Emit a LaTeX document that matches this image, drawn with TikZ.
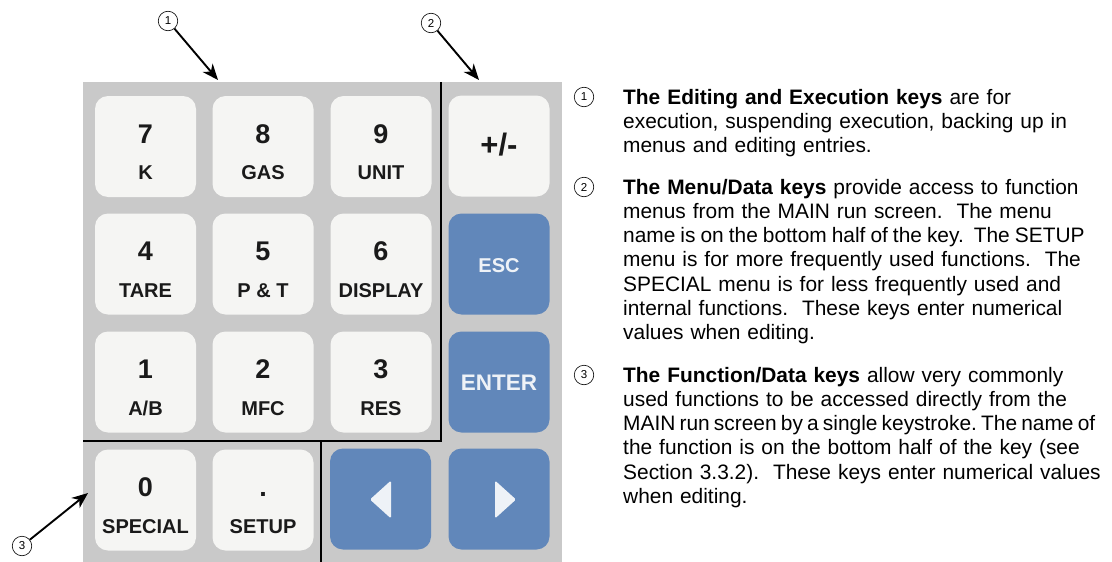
\documentclass[tikz,border=0pt]{standalone}
\usepackage{fontspec}
\setmainfont{Liberation Sans}
\usepackage{xcolor}
\usepackage{tikz}
\usetikzlibrary{arrows.meta}

\definecolor{panelgray}{RGB}{201,201,201}
\definecolor{keywhite}{RGB}{245,245,243}
\definecolor{keyblue}{RGB}{97,135,186}
\definecolor{keytext}{RGB}{26,26,26}
\definecolor{bluetext}{RGB}{238,242,247}

\begin{document}
\begin{tikzpicture}[x=1pt, y=-1pt,
	key/.style={shape=rectangle, rounded corners=13pt, inner sep=0, minimum width=101pt, minimum height=101pt, fill=keywhite},
	bluekey/.style={key, fill=keyblue},
	digit/.style={anchor=base, inner sep=0, text=keytext, font=\fontsize{27}{27}\selectfont\bfseries},
	keyname/.style={anchor=base, inner sep=0, text=keytext, font=\fontsize{20}{20}\selectfont\bfseries},
	bluename/.style={keyname, text=bluetext},
	callout/.style={shape=circle, draw, line width=0.6pt, inner sep=0, minimum size=19.5pt, font=\fontsize{11.5}{11.5}\selectfont},
	pointer/.style={line width=1.9pt, -{Stealth[length=16pt, width=13pt, inset=5pt]}},
	divider/.style={line width=2.4pt},
	para/.style={anchor=base west, inner sep=0, text width=520pt, align=left, font=\fontsize{20.9}{24.3}\selectfont}]
	\useasboundingbox (0, 0) rectangle (1112, 562);
	% Keypad panel and dividers:
	\node[shape=rectangle, fill=panelgray, inner sep=0, minimum width=479pt, minimum height=480pt] (Panel) at (322.5, 322) {};
	\draw[divider] (441, 82) -- (441, 441) -- (83, 441);
	\draw[divider] (321, 441) -- (321, 562);
	% Number keys:
	\node[key] (K7) at (145.5, 146.5) {};
	\node[key] (K8) at (263, 146.5) {};
	\node[key] (K9) at (381, 146.5) {};
	\node[key] (K4) at (145.5, 264) {};
	\node[key] (K5) at (263, 264) {};
	\node[key] (K6) at (381, 264) {};
	\node[key] (K1) at (145.5, 382) {};
	\node[key] (K2) at (263, 382) {};
	\node[key] (K3) at (381, 382) {};
	\node[key] (K0) at (145.5, 500) {};
	\node[key] (KDot) at (263, 500) {};
	\node[digit] (D7) at ([yshift=3.5pt]K7.center) {7} node[keyname] (L7) at ([yshift=-33pt]K7.center) {K};
	\node[digit] (D8) at ([yshift=3.5pt]K8.center) {8} node[keyname] (L8) at ([yshift=-33pt]K8.center) {GAS};
	\node[digit] (D9) at ([yshift=3.5pt]K9.center) {9} node[keyname] (L9) at ([yshift=-33pt]K9.center) {UNIT};
	\node[digit] (D4) at ([yshift=3.5pt]K4.center) {4} node[keyname] (L4) at ([yshift=-33pt]K4.center) {TARE};
	\node[digit] (D5) at ([yshift=3.5pt]K5.center) {5} node[keyname] (L5) at ([yshift=-33pt]K5.center) {P \& T};
	\node[digit] (D6) at ([yshift=3.5pt]K6.center) {6} node[keyname] (L6) at ([yshift=-33pt]K6.center) {DISPLAY};
	\node[digit] (D1) at ([yshift=3.5pt]K1.center) {1} node[keyname] (L1) at ([yshift=-33pt]K1.center) {A/B};
	\node[digit] (D2) at ([yshift=3.5pt]K2.center) {2} node[keyname] (L2) at ([yshift=-33pt]K2.center) {MFC};
	\node[digit] (D3) at ([yshift=3.5pt]K3.center) {3} node[keyname] (L3) at ([yshift=-33pt]K3.center) {RES};
	\node[digit] (D0) at ([yshift=3.5pt]K0.center) {0} node[keyname] (L0) at ([yshift=-33pt]K0.center) {SPECIAL};
	\node[digit] (DDot) at ([yshift=3.5pt]KDot.center) {.} node[keyname] (LDot) at ([yshift=-33pt]KDot.center) {SETUP};
	% Editing and execution keys:
	\node[key] (KSign) at (499, 146) {};
	\node[bluekey] (KEsc) at (499, 264) {};
	\node[bluekey] (KEnter) at (499, 382) {};
	\node[bluekey] (KLeft) at (380.5, 499) {};
	\node[bluekey] (KRight) at (499, 499) {};
	\node[digit, font=\fontsize{31}{31}\selectfont\bfseries] (DSign) at ([yshift=-9pt]KSign.center) {+/-};
	\node[bluename] (LEsc) at ([yshift=-8pt]KEsc.center) {ESC};
	\node[bluename, font=\fontsize{22.5}{22.5}\selectfont\bfseries] (LEnter) at ([yshift=-8pt]KEnter.center) {ENTER};
	\fill[bluetext, rounded corners=1.5pt] ([xshift=-10.5pt, yshift=-0.5pt]KLeft.center) -- ([xshift=10.5pt, yshift=18.5pt]KLeft.center) -- ([xshift=10.5pt, yshift=-19.5pt]KLeft.center) -- cycle;
	\fill[bluetext, rounded corners=1.5pt] ([xshift=17pt, yshift=-0.5pt]KRight.center) -- ([xshift=-4pt, yshift=18.5pt]KRight.center) -- ([xshift=-4pt, yshift=-19.5pt]KRight.center) -- cycle;
	% Callouts:
	\node[callout] (C1) at (168, 21) {1};
	\node[callout] (C2) at (431, 23) {2};
	\node[callout] (C3) at (22, 546) {3};
	\coordinate (T1) at (218, 80);
	\coordinate (T2) at (479, 80);
	\coordinate (T3) at (88, 493);
	\draw[pointer] (C1) -- (T1);
	\draw[pointer] (C2) -- (T2);
	\draw[pointer] (C3) -- (T3);
	% Legend:
	\node[callout] (N1) at (584, 97) {1};
	\node[para] (P1) at (623, 104) {\textbf{The Editing and Execution keys} are for\\execution, suspending execution, backing up in\\menus and editing entries.};
	\node[callout] (N2) at (584, 187) {2};
	\node[para] (P2) at (623, 194) {\textbf{The Menu/Data keys} provide access to function\\menus from the MAIN run screen.\ \ The menu\\{\spaceskip=0.24em\relax name is on the bottom half of the key.\ \ The SETUP}\\menu is for more frequently used functions.\ \ The\\SPECIAL menu is for less frequently used and\\internal functions.\ \ These keys enter numerical\\values when editing.};
	\node[callout] (N3) at (584, 375) {3};
	\node[para] (P3) at (623, 382) {\textbf{The Function/Data keys} allow very commonly\\used functions to be accessed directly from the\\{\spaceskip=0.2em\relax MAIN run screen by a single keystroke.\ The name of}\\the function is on the bottom half of the key (see\\Section 3.3.2).\ \ These keys enter numerical values\\when editing.};
\end{tikzpicture}
\end{document}
